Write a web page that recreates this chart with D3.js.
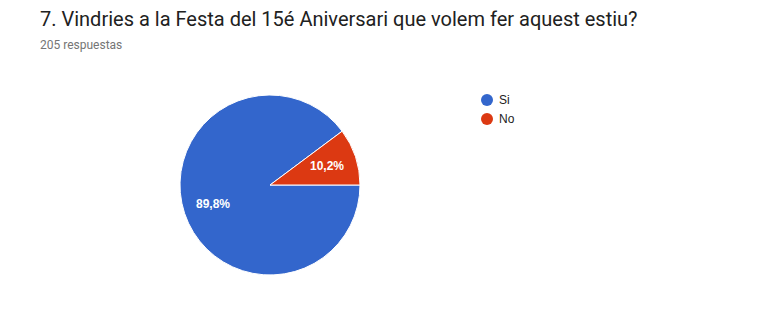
<!DOCTYPE html>
<html>
<head>
<meta charset="utf-8">
<script src="https://cdn.jsdelivr.net/npm/d3@7"></script>
<style>
  body { margin: 0; background: #fff; font-family: Roboto, Arial, sans-serif; }
</style>
</head>
<body>
<svg id="chart"></svg>
<script>
const categories = ['Si', 'No'];
const values = [89.8, 10.2];
const colors = ['#3366cc', '#dc3912'];
const title = '7. Vindries a la Festa del 15é Aniversari que volem fer aquest estiu?';
const subtitle = '205 respuestas';

const width = 768,
  height = 321,
  cx = 270,
  cy = 185,
  radius = 90;

const svg = d3.select('#chart')
  .attr('width', width)
  .attr('height', height);

svg.append('text')
  .attr('x', 40)
  .attr('y', 26)
  .attr('font-size', 20)
  .attr('fill', '#212121')
  .text(title);

svg.append('text')
  .attr('x', 40)
  .attr('y', 49)
  .attr('font-size', 12)
  .attr('fill', '#757575')
  .text(subtitle);

const pieData = categories.map((c, i) => ({name: c, value: values[i]}));

const color = d3.scaleOrdinal()
  .domain(categories)
  .range(colors);

const pie = d3.pie()
  .sort(null)
  .startAngle(Math.PI / 2)
  .endAngle(Math.PI / 2 + 2 * Math.PI)
  .value(d => d.value);

const path = d3.arc()
  .outerRadius(radius)
  .innerRadius(0);

const labelArc = d3.arc()
  .outerRadius(radius * 0.667)
  .innerRadius(radius * 0.667);

const g = svg.append('g')
  .attr('transform', `translate(${cx},${cy})`);

const arc = g.selectAll('.arc')
  .data(pie(pieData))
  .enter()
  .append('g')
  .attr('class', 'arc');

arc.append('path')
  .attr('d', path)
  .attr('fill', d => color(d.data.name))
  .attr('stroke', '#fff')
  .attr('stroke-width', 1);

arc.append('text')
  .attr('transform', d => `translate(${labelArc.centroid(d)})`)
  .attr('text-anchor', 'middle')
  .attr('dy', '0.35em')
  .attr('font-family', 'Arial, Liberation Sans, sans-serif')
  .attr('font-size', 12)
  .attr('font-weight', 'bold')
  .attr('fill', '#fff')
  .text(d => d.data.value.toFixed(1).replace('.', ',') + '%');

const key = svg.append('g');

const keyItem = key.selectAll('g')
  .data(categories)
  .enter().append('g')
  .attr('transform', (d, i) => `translate(487,${100 + i * 19})`);

keyItem.append('circle')
  .attr('r', 6)
  .attr('fill', d => color(d));

keyItem.append('text')
  .attr('x', 12)
  .attr('dy', '0.35em')
  .attr('font-family', 'Arial, Liberation Sans, sans-serif')
  .attr('font-size', 12)
  .attr('fill', '#222')
  .text(d => d);
</script>
</body>
</html>
